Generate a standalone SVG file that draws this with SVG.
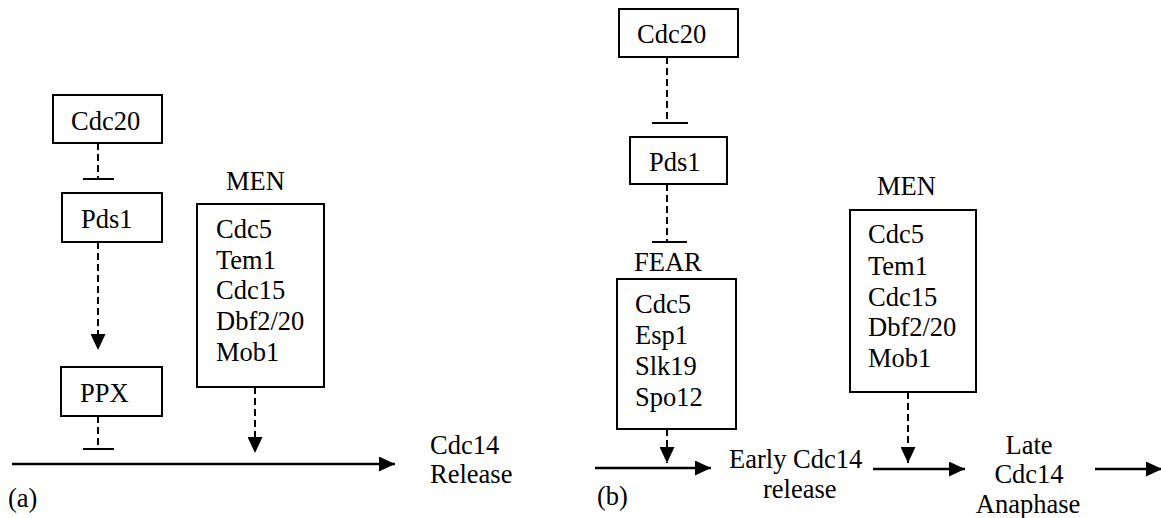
<svg xmlns="http://www.w3.org/2000/svg" width="1161" height="518" viewBox="0 0 1161 518">
<style>
text { font-family: "Liberation Serif", "Times New Roman", serif; font-size: 26.5px; fill: #000; }
.box { fill: #fff; stroke: #000; stroke-width: 2; }
.dash { stroke: #000; stroke-width: 2; stroke-dasharray: 7 4; fill: none; }
.solid { stroke: #000; stroke-width: 2.5; fill: none; }
.bar { stroke: #000; stroke-width: 2; }
</style>
<defs>
<marker id="arr" viewBox="0 0 16 15" refX="16" refY="7.5" markerWidth="16" markerHeight="15" markerUnits="userSpaceOnUse" orient="auto">
<path d="M0,0 L16,7.5 L0,15 Z" fill="#000"/>
</marker>
</defs>
<rect width="1161" height="518" fill="#fff"/>

<g id="connectors">
<!-- left panel -->
<line class="dash" x1="98" y1="143" x2="98" y2="179"/>
<line class="bar" x1="83" y1="179" x2="114" y2="179"/>
<line class="dash" x1="98" y1="242" x2="98" y2="350" marker-end="url(#arr)"/>
<line class="dash" x1="98" y1="416" x2="98" y2="449"/>
<line class="bar" x1="83" y1="449" x2="114" y2="449"/>
<line class="dash" x1="255" y1="387" x2="255" y2="453" marker-end="url(#arr)"/>
<line class="solid" x1="12" y1="464" x2="395" y2="464" marker-end="url(#arr)"/>
<!-- right panel -->
<line class="dash" x1="667" y1="57" x2="667" y2="123"/>
<line class="bar" x1="652" y1="123" x2="688" y2="123"/>
<line class="dash" x1="667" y1="184" x2="667" y2="242"/>
<line class="bar" x1="652" y1="242" x2="687" y2="242"/>
<line class="dash" x1="667" y1="429" x2="667" y2="463" marker-end="url(#arr)"/>
<line class="solid" x1="595" y1="468" x2="711" y2="468" marker-end="url(#arr)"/>
<line class="dash" x1="908" y1="392" x2="908" y2="463" marker-end="url(#arr)"/>
<line class="solid" x1="873" y1="469" x2="965" y2="469" marker-end="url(#arr)"/>
<line class="solid" x1="1095" y1="469" x2="1162" y2="469" marker-end="url(#arr)"/>
</g>

<g id="cdc20-a">
<rect class="box" x="53" y="95" width="109" height="48"/>
<text x="71" y="130">Cdc20</text>
</g>
<g id="pds1-a">
<rect class="box" x="62" y="193" width="100" height="49"/>
<text x="81" y="228">Pds1</text>
</g>
<g id="ppx-a">
<rect class="box" x="61" y="367" width="101" height="49"/>
<text x="80" y="402">PPX</text>
</g>
<g id="men-a">
<text x="226" y="190">MEN</text>
<rect class="box" x="197" y="204" width="127" height="183"/>
<text x="216" y="238">Cdc5</text>
<text x="216" y="269">Tem1</text>
<text x="216" y="299">Cdc15</text>
<text x="216" y="330">Dbf2/20</text>
<text x="216" y="361">Mob1</text>
</g>
<g id="release-a">
<text x="430" y="454">Cdc14</text>
<text x="430" y="483">Release</text>
</g>
<g id="label-a">
<text x="8" y="507">(a)</text>
</g>

<g id="cdc20-b">
<rect class="box" x="619" y="9" width="119" height="48"/>
<text x="637" y="43">Cdc20</text>
</g>
<g id="pds1-b">
<rect class="box" x="630" y="137" width="97" height="47"/>
<text x="649" y="171">Pds1</text>
</g>
<g id="fear-b">
<text x="634" y="271">FEAR</text>
<rect class="box" x="617" y="279" width="119" height="150"/>
<text x="635" y="313">Cdc5</text>
<text x="635" y="344">Esp1</text>
<text x="635" y="375">Slk19</text>
<text x="635" y="406">Spo12</text>
</g>
<g id="men-b">
<text x="877" y="195">MEN</text>
<rect class="box" x="850" y="210" width="126" height="182"/>
<text x="868" y="243">Cdc5</text>
<text x="868" y="275">Tem1</text>
<text x="868" y="306">Cdc15</text>
<text x="868" y="336">Dbf2/20</text>
<text x="868" y="367">Mob1</text>
</g>
<g id="early-b">
<text x="729" y="468">Early Cdc14</text>
<text x="763" y="498">release</text>
</g>
<g id="late-b">
<text x="1029" y="454" text-anchor="middle">Late</text>
<text x="1029" y="483" text-anchor="middle">Cdc14</text>
<text x="1028" y="513" text-anchor="middle">Anaphase</text>
</g>
<g id="label-b">
<text x="597" y="505">(b)</text>
</g>
</svg>
